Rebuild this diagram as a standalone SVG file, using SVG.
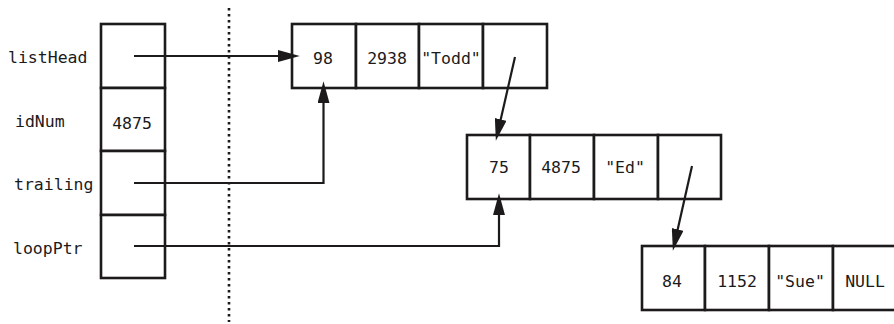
<svg xmlns="http://www.w3.org/2000/svg" width="894" height="324" viewBox="0 0 894 324">
<style>
.cell{fill:#fff;stroke:#1c1a1b;stroke-width:2.6}
.t{font-family:"DejaVu Sans Mono","Liberation Mono",monospace;font-size:16.5px;fill:#1c1a1b;text-anchor:middle}
.lbl{font-family:"DejaVu Sans Mono","Liberation Mono",monospace;font-size:16.5px;fill:#1c1a1b}
.conn{fill:none;stroke:#1c1a1b;stroke-width:2.2;marker-end:url(#ah)}
</style>
<defs>
<marker id="ah" markerUnits="userSpaceOnUse" markerWidth="22" markerHeight="12" viewBox="0 0 20 11" refX="12" refY="5.5" orient="auto">
<path d="M0,0 L20,5.5 L0,11 z" fill="#1c1a1b"/>
</marker>
</defs>
<rect width="894" height="324" fill="#fff"/>
<line x1="229" y1="8" x2="229" y2="322" stroke="#1c1a1b" stroke-width="2.6" stroke-dasharray="2.5 3.5"/>
<g id="vars">
<rect class="cell" x="101" y="24" width="64" height="64"/>
<rect class="cell" x="101" y="88" width="64" height="63"/>
<rect class="cell" x="101" y="151" width="64" height="64"/>
<rect class="cell" x="101" y="215" width="64" height="63"/>
<text class="lbl" x="8" y="63">listHead</text>
<text class="lbl" x="15" y="127">idNum</text>
<text class="lbl" x="14" y="190">trailing</text>
<text class="lbl" x="13" y="254">loopPtr</text>
<text class="t" x="132" y="129">4875</text>
</g>
<g id="node1">
<rect class="cell" x="292" y="24" width="64" height="64"/>
<rect class="cell" x="356" y="24" width="63" height="64"/>
<rect class="cell" x="419" y="24" width="64" height="64"/>
<rect class="cell" x="483" y="24" width="64" height="64"/>
<text class="t" x="323" y="64">98</text>
<text class="t" x="387" y="64">2938</text>
<text class="t" x="451" y="64">"Todd"</text>
</g>
<g id="node2">
<rect class="cell" x="467" y="135" width="63" height="64"/>
<rect class="cell" x="530" y="135" width="64" height="64"/>
<rect class="cell" x="594" y="135" width="64" height="64"/>
<rect class="cell" x="658" y="135" width="63" height="64"/>
<text class="t" x="499" y="173">75</text>
<text class="t" x="561" y="173">4875</text>
<text class="t" x="625" y="173">"Ed"</text>
</g>
<g id="node3">
<rect class="cell" x="642" y="246" width="63" height="64"/>
<rect class="cell" x="705" y="246" width="64" height="64"/>
<rect class="cell" x="769" y="246" width="64" height="64"/>
<rect class="cell" x="833" y="246" width="64" height="64"/>
<text class="t" x="672" y="287">84</text>
<text class="t" x="737" y="287">1152</text>
<text class="t" x="800" y="287">"Sue"</text>
<text class="t" x="865" y="287">NULL</text>
</g>
<g id="connectors">
<path class="conn" d="M134 56 H291"/>
<path class="conn" d="M134 183 H323.5 V90"/>
<path class="conn" d="M134 246 H499 V202"/>
<path class="conn" d="M515 57 L497.8 132.2"/>
<path class="conn" d="M692 166 L674.8 242.2"/>
</g>
</svg>
